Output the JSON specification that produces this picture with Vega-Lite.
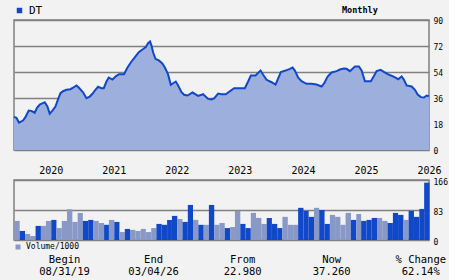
{
  "$schema": "https://vega.github.io/schema/vega-lite/v6.json",
  "background": "#f2f2f2",
  "padding": {"left": 9, "top": 4, "right": 0, "bottom": 0},
  "config": {
    "font": "DejaVu Sans Mono",
    "view": {"stroke": "#808080", "strokeWidth": 1.5, "fill": "#f2f2f2"},
    "axis": {"labelFont": "DejaVu Sans Mono", "labelColor": "#000000", "domain": false, "ticks": false, "gridColor": "#808080", "gridOpacity": 1, "gridWidth": 1.5, "title": null},
    "legend": {"labelFont": "DejaVu Sans Mono", "titleFont": "DejaVu Sans Mono", "labelColor": "#000000", "titleColor": "#000000"}
  },
  "bounds": "flush",
  "spacing": 30,
  "resolve": {"scale": {"x": "independent", "color": "independent"}, "legend": {"color": "independent"}},
  "vconcat": [
    {
      "width": 415,
      "height": 130,
      "data": {"values": [
        {"m":0,"price":22.98},{"m":0.46,"price":22.3},{"m":0.95,"price":19.0},{"m":1.71,"price":20.4},{"m":2.17,"price":22.7},
        {"m":2.8,"price":27.3},{"m":3.31,"price":27.1},{"m":3.94,"price":25.8},{"m":4.38,"price":29.2},{"m":4.9,"price":31.5},
        {"m":5.85,"price":33.1},{"m":6.36,"price":30.1},{"m":6.8,"price":25.1},{"m":7.31,"price":27.3},{"m":7.89,"price":30.1},
        {"m":8.38,"price":35.0},{"m":8.84,"price":39.3},{"m":9.33,"price":40.7},{"m":9.98,"price":41.7},{"m":10.74,"price":42.1},
        {"m":11.24,"price":43.1},{"m":11.89,"price":44.7},{"m":12.32,"price":43.3},{"m":13.14,"price":40.0},{"m":13.79,"price":35.9},
        {"m":14.42,"price":37.0},{"m":14.93,"price":38.9},{"m":15.5,"price":41.7},{"m":16.0,"price":43.8},{"m":16.65,"price":42.8},
        {"m":17.09,"price":42.8},{"m":17.6,"price":47.4},{"m":18.04,"price":50.2},{"m":18.74,"price":48.8},{"m":19.37,"price":51.0},
        {"m":20.0,"price":52.5},{"m":20.95,"price":52.5},{"m":21.52,"price":56.6},{"m":22.23,"price":60.6},{"m":22.99,"price":64.2},
        {"m":23.75,"price":67.7},{"m":24.46,"price":69.6},{"m":25.09,"price":71.2},{"m":25.52,"price":73.9},{"m":25.9,"price":75.1},
        {"m":26.17,"price":72.3},{"m":26.48,"price":67.7},{"m":26.93,"price":63.1},{"m":27.56,"price":62.0},{"m":28.19,"price":60.1},
        {"m":28.7,"price":57.3},{"m":29.33,"price":52.3},{"m":29.85,"price":45.1},{"m":30.29,"price":46.2},{"m":30.8,"price":47.4},
        {"m":31.24,"price":44.7},{"m":31.89,"price":40.0},{"m":32.38,"price":38.2},{"m":33.03,"price":37.7},{"m":33.98,"price":39.8},
        {"m":34.74,"price":38.2},{"m":35.05,"price":37.5},{"m":36.0,"price":38.6},{"m":36.95,"price":35.4},{"m":37.6,"price":35.0},
        {"m":38.1,"price":35.7},{"m":38.86,"price":39.1},{"m":39.5,"price":38.6},{"m":40.32,"price":38.6},{"m":40.76,"price":39.8},
        {"m":41.9,"price":42.8},{"m":43.94,"price":42.8},{"m":44.57,"price":47.4},{"m":45.09,"price":51.6},{"m":45.98,"price":51.6},
        {"m":46.93,"price":55.0},{"m":47.43,"price":52.1},{"m":48.08,"price":48.6},{"m":49.03,"price":46.9},{"m":49.79,"price":45.3},
        {"m":50.17,"price":48.6},{"m":50.8,"price":53.9},{"m":51.7,"price":55.0},{"m":52.51,"price":56.2},{"m":53.03,"price":57.1},
        {"m":53.47,"price":55.0},{"m":54.1,"price":50.0},{"m":54.74,"price":47.6},{"m":55.7,"price":45.8},{"m":56.65,"price":45.8},
        {"m":57.6,"price":45.3},{"m":58.55,"price":44.0},{"m":59.05,"price":46.2},{"m":59.7,"price":50.9},{"m":60.46,"price":53.7},
        {"m":61.41,"price":54.6},{"m":62.04,"price":55.7},{"m":62.8,"price":56.4},{"m":63.31,"price":56.2},{"m":63.94,"price":54.6},
        {"m":64.9,"price":57.8},{"m":65.66,"price":57.8},{"m":66.17,"price":55.0},{"m":66.8,"price":47.6},{"m":67.94,"price":47.6},
        {"m":68.57,"price":51.6},{"m":69.03,"price":54.6},{"m":69.79,"price":55.5},{"m":70.48,"price":53.9},{"m":71.24,"price":52.3},
        {"m":72.19,"price":50.9},{"m":73.14,"price":49.0},{"m":73.79,"price":50.9},{"m":74.23,"price":48.6},{"m":74.74,"price":44.7},
        {"m":75.7,"price":44.0},{"m":76.32,"price":41.7},{"m":76.84,"price":38.4},{"m":77.47,"price":36.6},{"m":78.04,"price":36.3},
        {"m":78.55,"price":37.7},{"m":79,"price":37.26}
      ]},
      "encoding": {
        "x": {"field": "m", "type": "quantitative", "scale": {"domain": [0, 79], "nice": false, "zero": false}, "axis": null},
        "y": {"field": "price", "type": "quantitative", "scale": {"domain": [0, 90], "nice": false},
              "axis": {"orient": "right", "values": [0, 18, 36, 54, 72, 90], "grid": true, "labelFontSize": 8, "labelPadding": 4, "labelOffset": 1.5}}
      },
      "layer": [
        {"mark": {"type": "area", "color": "#9dafdd", "opacity": 1}},
        {"mark": {"type": "line", "strokeWidth": 2},
         "encoding": {"color": {"datum": "DT", "type": "nominal", "scale": {"range": ["#1148c8"]},
           "legend": {"orient": "top", "title": "Monthly", "titleOrient": "right", "titlePadding": 300,
                      "titleFontSize": 8.5, "titleFontWeight": "bold", "labelFontSize": 11, "labelFontWeight": "normal", "symbolType": "square",
                      "symbolSize": 30, "symbolStrokeWidth": 0, "symbolFillColor": "#1148c8", "padding": 0, "offset": 4,
                      "encode": {"symbols": {"update": {"fill": {"value": "#1148c8"}, "strokeWidth": {"value": 0}}}}}}}}
      ]
    },
    {
      "bounds": "flush",
      "spacing": 12,
      "resolve": {"scale": {"x": "independent", "y": "independent", "color": "independent"}},
      "vconcat": [
        {
          "width": 415,
          "height": 60,
          "data": {"values": [
            {"date":"2019-09-15","vol":52.8,"dir":"down"},{"date":"2019-10-15","vol":25,"dir":"up"},{"date":"2019-11-15","vol":16.7,"dir":"down"},
            {"date":"2019-12-15","vol":11,"dir":"down"},{"date":"2020-01-15","vol":39,"dir":"up"},{"date":"2020-02-15","vol":39,"dir":"down"},
            {"date":"2020-03-15","vol":52.8,"dir":"down"},{"date":"2020-04-15","vol":55.6,"dir":"up"},{"date":"2020-05-15","vol":33,"dir":"down"},
            {"date":"2020-06-15","vol":52.8,"dir":"down"},{"date":"2020-07-15","vol":85,"dir":"down"},{"date":"2020-08-15","vol":50,"dir":"down"},
            {"date":"2020-09-15","vol":75,"dir":"down"},{"date":"2020-10-15","vol":52.8,"dir":"up"},{"date":"2020-11-15","vol":55.6,"dir":"up"},
            {"date":"2020-12-15","vol":52.8,"dir":"down"},{"date":"2021-01-15","vol":47,"dir":"down"},{"date":"2021-02-15","vol":42,"dir":"up"},
            {"date":"2021-03-15","vol":55.6,"dir":"down"},{"date":"2021-04-15","vol":50,"dir":"up"},{"date":"2021-05-15","vol":22,"dir":"down"},
            {"date":"2021-06-15","vol":30.6,"dir":"up"},{"date":"2021-07-15","vol":28,"dir":"down"},{"date":"2021-08-15","vol":25,"dir":"down"},
            {"date":"2021-09-15","vol":30.6,"dir":"down"},{"date":"2021-10-15","vol":22,"dir":"down"},{"date":"2021-11-15","vol":33,"dir":"down"},
            {"date":"2021-12-15","vol":44.5,"dir":"up"},{"date":"2022-01-15","vol":42,"dir":"up"},{"date":"2022-02-15","vol":55.6,"dir":"up"},
            {"date":"2022-03-15","vol":66.7,"dir":"up"},{"date":"2022-04-15","vol":58,"dir":"down"},{"date":"2022-05-15","vol":50,"dir":"up"},
            {"date":"2022-06-15","vol":97,"dir":"up"},{"date":"2022-07-15","vol":55.6,"dir":"down"},{"date":"2022-08-15","vol":42,"dir":"up"},
            {"date":"2022-09-15","vol":42,"dir":"down"},{"date":"2022-10-15","vol":97,"dir":"up"},{"date":"2022-11-15","vol":42,"dir":"down"},
            {"date":"2022-12-15","vol":47,"dir":"down"},{"date":"2023-01-15","vol":33,"dir":"up"},{"date":"2023-02-15","vol":36,"dir":"down"},
            {"date":"2023-03-15","vol":80.6,"dir":"down"},{"date":"2023-04-15","vol":44.5,"dir":"up"},{"date":"2023-05-15","vol":33,"dir":"up"},
            {"date":"2023-06-15","vol":75,"dir":"down"},{"date":"2023-07-15","vol":61,"dir":"down"},{"date":"2023-08-15","vol":44.5,"dir":"down"},
            {"date":"2023-09-15","vol":61,"dir":"up"},{"date":"2023-10-15","vol":44.5,"dir":"up"},{"date":"2023-11-15","vol":33,"dir":"up"},
            {"date":"2023-12-15","vol":64,"dir":"down"},{"date":"2024-01-15","vol":42,"dir":"down"},{"date":"2024-02-15","vol":42,"dir":"down"},
            {"date":"2024-03-15","vol":89,"dir":"up"},{"date":"2024-04-15","vol":80.6,"dir":"up"},{"date":"2024-05-15","vol":64,"dir":"up"},
            {"date":"2024-06-15","vol":89,"dir":"down"},{"date":"2024-07-15","vol":83,"dir":"up"},{"date":"2024-08-15","vol":44.5,"dir":"up"},
            {"date":"2024-09-15","vol":69.5,"dir":"down"},{"date":"2024-10-15","vol":64,"dir":"down"},{"date":"2024-11-15","vol":42,"dir":"down"},
            {"date":"2024-12-15","vol":75,"dir":"down"},{"date":"2025-01-15","vol":55.6,"dir":"up"},{"date":"2025-02-15","vol":72,"dir":"down"},
            {"date":"2025-03-15","vol":52.8,"dir":"up"},{"date":"2025-04-15","vol":55.6,"dir":"up"},{"date":"2025-05-15","vol":61,"dir":"up"},
            {"date":"2025-06-15","vol":61,"dir":"down"},{"date":"2025-07-15","vol":52.8,"dir":"down"},{"date":"2025-08-15","vol":47,"dir":"up"},
            {"date":"2025-09-15","vol":75,"dir":"up"},{"date":"2025-10-15","vol":69.5,"dir":"up"},{"date":"2025-11-15","vol":55.6,"dir":"down"},
            {"date":"2025-12-15","vol":80.6,"dir":"up"},{"date":"2026-01-15","vol":64,"dir":"up"},{"date":"2026-02-15","vol":86,"dir":"up"},
            {"date":"2026-03-15","vol":158.6,"dir":"up"}
          ]},
          "mark": {"type": "bar", "binSpacing": 0, "timeUnitBandSize": 1, "timeUnitBandPosition": 0},
          "encoding": {
            "x": {"field": "date", "type": "temporal", "timeUnit": "yearmonth",
                  "scale": {"domain": [{"year": 2019, "month": 9, "date": 1}, {"year": 2026, "month": 4, "date": 1}]},
                  "axis": {"orient": "top", "grid": false, "format": "%Y", "labelFlush": false, "labelOverlap": false,
                           "labelFontSize": 10, "labelPadding": 5,
                           "values": [{"year": 2020, "month": 4, "date": 1}, {"year": 2021, "month": 4, "date": 1}, {"year": 2022, "month": 4, "date": 1},
                                      {"year": 2023, "month": 4, "date": 1}, {"year": 2024, "month": 4, "date": 1}, {"year": 2025, "month": 4, "date": 1},
                                      {"year": 2026, "month": 4, "date": 1}]}},
            "y": {"field": "vol", "type": "quantitative", "scale": {"domain": [0, 166], "nice": false},
                  "axis": {"orient": "right", "values": [0, 83, 166], "grid": true, "labelFontSize": 8, "labelPadding": 4, "labelOffset": 2}},
            "color": {"field": "dir", "type": "nominal", "scale": {"domain": ["down", "up"], "range": ["#8899c8", "#1148c8"]},
                      "legend": {"orient": "bottom", "values": ["down"], "labelExpr": "'Volume/1000'", "title": null,
                                 "symbolType": "square", "symbolSize": 25, "labelFontSize": 8, "padding": 0, "offset": 3}}
          }
        },
        {
          "width": 415,
          "height": 28,
          "view": {"stroke": null, "fill": null},
          "data": {"values": [
            {"stat": "Begin", "kind": "label", "text": "Begin"}, {"stat": "Begin", "kind": "value", "text": "08/31/19"},
            {"stat": "End", "kind": "label", "text": "End"}, {"stat": "End", "kind": "value", "text": "03/04/26"},
            {"stat": "From", "kind": "label", "text": "From"}, {"stat": "From", "kind": "value", "text": "22.980"},
            {"stat": "Now", "kind": "label", "text": "Now"}, {"stat": "Now", "kind": "value", "text": "37.260"},
            {"stat": "% Change", "kind": "label", "text": "% Change"}, {"stat": "% Change", "kind": "value", "text": "62.14%"}
          ]},
          "mark": {"type": "text", "fontSize": 10.5, "font": "DejaVu Sans Mono", "color": "#000000"},
          "encoding": {
            "x": {"field": "stat", "type": "nominal", "sort": null, "scale": {"type": "point", "padding": 0.33, "align": 0.86}, "axis": null},
            "y": {"field": "kind", "type": "nominal", "sort": ["label", "value"], "scale": {"type": "point", "padding": 0.6}, "axis": null},
            "text": {"field": "text"}
          }
        }
      ]
    }
  ]
}
